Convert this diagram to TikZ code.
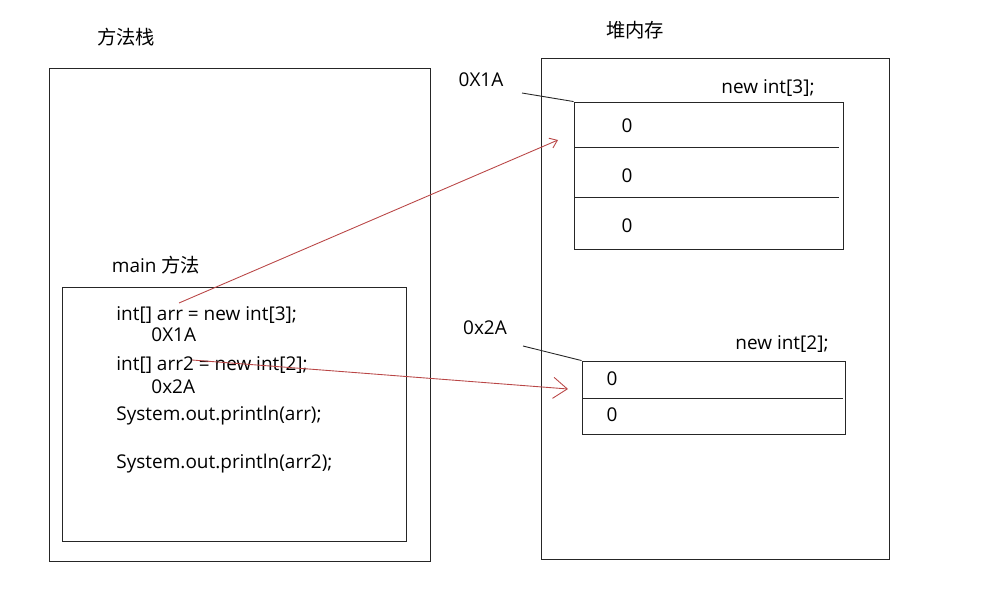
\documentclass[tikz,border=0pt]{standalone}
\usepackage{fontspec}
\setmainfont{Open Sans}
\newfontfamily\cjk{Noto Sans CJK SC}
\usetikzlibrary{arrows.meta}

\def\px{0.02cm}
\definecolor{refred}{RGB}{185,70,70}

\begin{document}
\begin{tikzpicture}[x=\px, y=-\px, line width=0.5pt, draw=black!85]
  \tikzstyle{every node}=[font=\fontsize{10.8pt}{13pt}\selectfont, inner sep=0pt]
  \tikzstyle{title}=[font=\cjk\fontsize{11pt}{13pt}\selectfont]
  \tikzstyle{frame}=[draw, rectangle]
  \tikzstyle{code}=[anchor=west]
  \tikzstyle{ref}=[draw=refred, line width=0.5pt]

  \useasboundingbox (0,0) rectangle (1000,594);

  % Draw the titles
  \node[title] (stackl) at (126,37) {方法栈};
  \node[title] (heapl) at (635,30) {堆内存};

  % Draw the stack side
  \node[frame, minimum width=381*\px, minimum height=493*\px] (stack) at (239.5,314.5) {};
  \node (mainl) at (156,265) {main {\cjk\fontsize{11pt}{13pt}\selectfont 方法}};
  \node[frame, minimum width=344*\px, minimum height=254*\px] (mainf) at (234,414) {};

  \node[code] (c1) at (116,315) {int[] arr = new int[3];};
  \node[code] (c2) at (151,335) {0X1A};
  \node[code] (c3) at (116,365) {int[] arr2 = new int[2];};
  \node[code] (c4) at (151,387) {0x2A};
  \node[code] (c5) at (116,416) {System.out.println(arr);};
  \node[code] (c6) at (116,464) {System.out.println(arr2);};

  % Draw the heap side
  \node[frame, minimum width=348*\px, minimum height=501*\px] (heap) at (715,308.5) {};

  \node (new3) at (768,88) {new int[3];};
  \node[frame, minimum width=269*\px, minimum height=147*\px] (arr3) at (708.5,175.5) {};
  \draw (574,147) -- (839,147);
  \draw (574,197) -- (839,197);
  \foreach \name / \y in {1/126,2/176,3/226}
  \node (A-\name) at (627,\y) {0};

  \node (new2) at (782,344) {new int[2];};
  \node[frame, minimum width=263*\px, minimum height=73*\px] (arr2) at (713.5,397.5) {};
  \draw (582,398) -- (843,398);
  \foreach \name / \y in {1/379,2/415}
  \node (B-\name) at (612,\y) {0};

  % Draw the addresses
  \node (adr1) at (481,80) {0X1A};
  \node (adr2) at (485,328) {0x2A};
  \coordinate (p1) at (522,93);
  \coordinate (p2) at (523,346);
  \draw (p1) -- (arr3.north west);
  \draw (p2) -- (arr2.north west);

  % Connect references
  \coordinate (s1) at (179,303);
  \coordinate (t1) at (558,140);
  \coordinate (s2) at (192,360);
  \coordinate (t2) at (568,389);
  \draw[ref, -{Straight Barb[length=4pt,width=6pt]}] (s1) -- (t1);
  \draw[ref, -{Straight Barb[length=8pt,width=12pt]}] (s2) -- (t2);
\end{tikzpicture}
\end{document}
